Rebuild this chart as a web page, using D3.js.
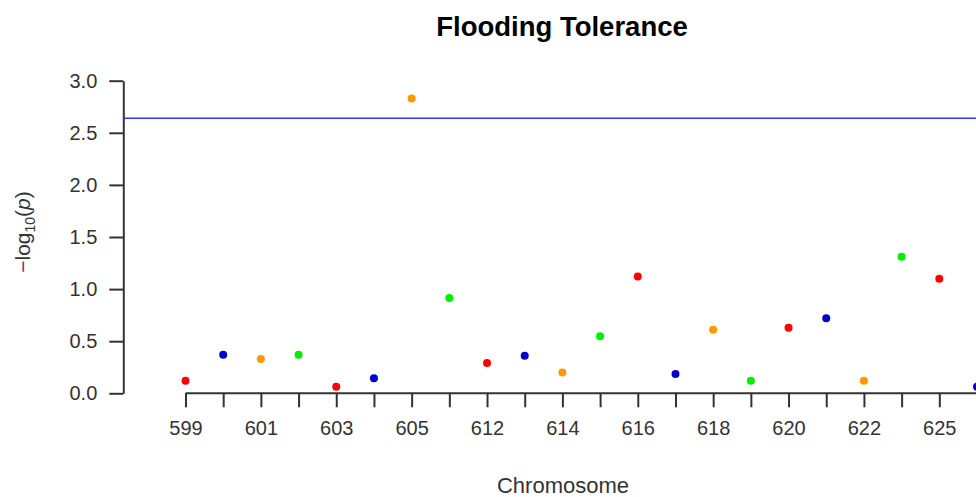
<!DOCTYPE html>
<html>
<head>
<meta charset="utf-8">
<script src="https://cdn.jsdelivr.net/npm/d3@7"></script>
<style>
  html, body { margin: 0; padding: 0; background: #fff; }
  svg { display: block; font-family: "Liberation Sans", Arial, sans-serif; }
</style>
</head>
<body>
<svg id="chart" width="976" height="497"></svg>
<script>
// Data
const chromosomes = ["599","600","601","602","603","604","605","606","612","613","614","615","616","617","618","619","620","621","622","623","625","626"];
const logP = [0.12,0.37,0.33,0.37,0.063,0.144,2.83,0.915,0.29,0.36,0.20,0.547,1.12,0.185,0.61,0.121,0.63,0.72,0.121,1.31,1.10,0.063];
const shownLabels = ["599","601","603","605","612","614","616","618","620","622","625"];
const yTicks = [0, 0.5, 1.0, 1.5, 2.0, 2.5, 3.0];
const palette = ["#ff0000","#0000cd","#ff9900","#00ee00"];
const threshold = 2.64;

const svg = d3.select("#chart");
const W = 976, H = 497;

const x = d3.scalePoint().domain(chromosomes).range([185.5, 977]);
const y = d3.scaleLinear().domain([0, 3]).range([393.3, 80.7]);
const axisColor = "#333";

// Y axis
const yAxis = svg.append("g").attr("transform", "translate(123.3,0)")
  .call(d3.axisLeft(y).tickValues(yTicks).tickFormat(d3.format(".1f")).tickSize(14).tickPadding(12).tickSizeOuter(0));
yAxis.select(".domain").attr("stroke", axisColor).attr("stroke-width", 2);
yAxis.selectAll(".tick line").attr("stroke", axisColor).attr("stroke-width", 2);
yAxis.selectAll(".tick text").attr("fill", "#333").attr("font-size", 20).attr("font-family", "Liberation Sans, Arial, sans-serif");

// X axis
const xAxis = svg.append("g").attr("transform", "translate(0,393.3)")
  .call(d3.axisBottom(x).tickSize(14).tickPadding(14).tickSizeOuter(0)
    .tickFormat(d => shownLabels.includes(d) ? d : ""));
xAxis.select(".domain").attr("stroke", axisColor).attr("stroke-width", 2)
  .attr("d", `M${x(chromosomes[0])},0H${W + 10}`);
xAxis.selectAll(".tick line").attr("stroke", axisColor).attr("stroke-width", 2);
xAxis.selectAll(".tick text").attr("fill", "#333").attr("font-size", 20).attr("font-family", "Liberation Sans, Arial, sans-serif");

// Threshold line
svg.append("line")
  .attr("x1", 123.3).attr("x2", W)
  .attr("y1", y(threshold)).attr("y2", y(threshold))
  .attr("stroke", "#3333ff").attr("stroke-width", 1.6);

// Points
svg.append("g").selectAll("circle")
  .data(chromosomes)
  .join("circle")
  .attr("cx", d => x(d))
  .attr("cy", (d, i) => y(logP[i]))
  .attr("r", 4)
  .attr("fill", (d, i) => palette[i % 4]);

// Title
svg.append("text")
  .attr("x", 562).attr("y", 36)
  .attr("text-anchor", "middle")
  .attr("font-size", 27.5).attr("font-weight", "bold").attr("fill", "#000")
  .text("Flooding Tolerance");

// X label
svg.append("text")
  .attr("x", 563).attr("y", 493)
  .attr("text-anchor", "middle")
  .attr("font-size", 22).attr("fill", "#333")
  .text("Chromosome");

// Y label
const yl = svg.append("text")
  .attr("transform", "translate(30,232) rotate(-90)")
  .attr("text-anchor", "middle")
  .attr("font-size", 21).attr("fill", "#333");
yl.append("tspan").attr("fill", "#7a2d63").text("\u2212");
yl.append("tspan").text("log");
yl.append("tspan").attr("font-size", 14).attr("dy", 5).text("10");
yl.append("tspan").attr("dy", -5).text("(");
yl.append("tspan").attr("font-style", "italic").text("p");
yl.append("tspan").text(")");
</script>
</body>
</html>
